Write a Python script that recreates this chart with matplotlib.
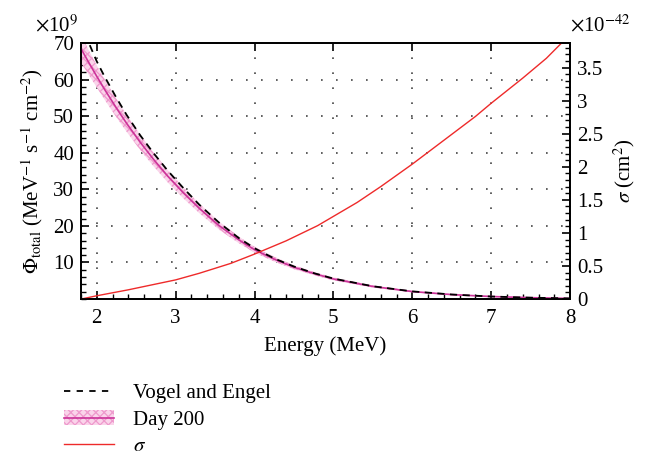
import numpy as np
import matplotlib
matplotlib.use('Agg')
import matplotlib.pyplot as plt
from matplotlib.patches import Patch
from matplotlib.lines import Line2D
from matplotlib.ticker import MultipleLocator

plt.rcParams['font.family'] = ['Liberation Serif', 'DejaVu Serif']
plt.rcParams['mathtext.fontset'] = 'stix'
plt.rcParams['hatch.linewidth'] = 0.9

# Vogel and Engel (x1e9)
vogel_e = [1.85, 1.89, 2.0, 2.1, 2.25, 2.38, 2.55, 2.72, 2.9, 3.1, 3.3, 3.55, 3.8, 4.0,
           4.25, 4.5, 4.75, 5.0, 5.5, 6.0, 6.5, 7.0, 7.5, 8.0]
vogel_phi = [72.6, 70.5, 65.0, 60.8, 55.0, 50.3, 44.8, 39.9, 35.1, 30.3, 25.8, 20.9, 16.7, 13.9,
             11.1, 8.9, 7.1, 5.6, 3.5, 2.1, 1.25, 0.7, 0.38, 0.18]

# Day 200 (centre and half-width, x1e9)
day_e = [1.8, 1.89, 2.0, 2.1, 2.25, 2.38, 2.55, 2.72, 2.9, 3.1, 3.3, 3.55, 3.8, 4.0,
         4.25, 4.5, 4.75, 5.0, 5.5, 6.0, 6.5, 7.0, 7.5, 8.0]
day_phi = [68.5, 65.0, 60.9, 57.3, 52.2, 48.0, 42.9, 38.2, 33.6, 29.0, 24.8, 20.1, 16.2, 13.5,
           10.9, 8.7, 7.0, 5.5, 3.45, 2.05, 1.22, 0.7, 0.38, 0.18]
day_err = [3.8, 3.4, 3.0, 2.8, 2.5, 2.3, 2.1, 1.9, 1.7, 1.5, 1.3, 1.1, 0.9, 0.8,
           0.65, 0.55, 0.45, 0.4, 0.3, 0.2, 0.15, 0.1, 0.07, 0.05]

# cross section (x1e-42 cm^2)
sig_e = [1.8, 2.0, 2.4, 2.8, 3.0, 3.3, 3.7, 4.0, 4.4, 4.8, 5.0, 5.3, 5.6, 6.0, 6.4, 6.8, 7.0, 7.4, 7.7, 7.9, 8.0]
sig_val = [0.0, 0.05, 0.14, 0.24, 0.29, 0.39, 0.54, 0.68, 0.88, 1.11, 1.25, 1.46, 1.70, 2.04, 2.40, 2.76, 2.96, 3.34, 3.64, 3.88, 4.0]

FS = 15

fig = plt.figure(figsize=(6.53, 4.58), dpi=100)
ax = fig.add_axes([0.124, 0.347, 0.749, 0.559])
ax2 = ax.twinx()

lo = np.array(day_phi) - np.array(day_err)
hi = np.array(day_phi) + np.array(day_err)
ax.fill_between(day_e, lo, hi, facecolor='#fad4ea', edgecolor='#ee99cc', hatch='xxxx', linewidth=0, zorder=2)
ax.plot(day_e, day_phi, color='#cc3399', lw=1.2, zorder=3)
ax.plot(vogel_e, vogel_phi, color='black', lw=1.3, ls=(0, (4, 3)), zorder=4)
ax2.plot(sig_e, sig_val, color='#ee2a2a', lw=1.0)

ax.set_xlim(1.8, 8)
ax.set_ylim(0, 70)
ax2.set_ylim(0, 3.87)

ax.xaxis.set_major_locator(MultipleLocator(1))
ax.xaxis.set_minor_locator(MultipleLocator(0.2))
ax.yaxis.set_minor_locator(MultipleLocator(2))
ax2.yaxis.set_minor_locator(MultipleLocator(0.1))

ax.set_yticks([10, 20, 30, 40, 50, 60, 70])
ax.set_yticklabels(['10', '20', '30', '40', '50', '60', '70'])
ax2.set_yticks([0, 0.5, 1, 1.5, 2, 2.5, 3, 3.5])
ax2.set_yticklabels(['0', '0.5', '1', '1.5', '2', '2.5', '3', '3.5'])

ax.tick_params(axis='x', which='both', direction='in', top=True, labelsize=FS, pad=7)
ax.tick_params(axis='x', which='minor', top=False)
ax.tick_params(axis='y', which='both', direction='in', labelsize=FS, pad=5)
ax2.tick_params(axis='y', which='both', direction='in', labelsize=FS, pad=5)
for a in (ax, ax2):
    a.tick_params(which='major', length=6, width=1.2)
    a.tick_params(which='minor', length=3.5, width=1.0)
    for s in a.spines.values():
        s.set_linewidth(1.3)

ax.grid(True, which='major', color='#444444', ls=(0, (1, 8)), lw=1.2)
ax.set_axisbelow(True)

ax.set_xlabel('Energy (MeV)', fontsize=FS, labelpad=6)
ax.set_ylabel(r'$\Phi_{\rm total}$ (MeV$^{-1}$ s$^{-1}$ cm$^{-2}$)', fontsize=FS, labelpad=6)
ax2.set_ylabel(r'$\sigma$ (cm$^2$)', fontsize=FS, labelpad=6)
ax.text(-0.095, 1.025, r'$\times$10$^9$', transform=ax.transAxes, fontsize=FS, ha='left', va='bottom')
ax2.text(1.0, 1.025, r'$\times$10$^{-42}$', transform=ax2.transAxes, fontsize=FS, ha='left', va='bottom')

handles = [
    Line2D([], [], color='black', lw=1.3, ls=(0, (3.5, 3.5))),
    (Patch(facecolor='#fad4ea', edgecolor='#ee99cc', hatch='xxxx', linewidth=0),
     Line2D([], [], color='#cc3399', lw=1.2)),
    Line2D([], [], color='#ee2a2a', lw=1.0),
]
labels = ['Vogel and Engel', 'Day 200', r'$\sigma$']
fig.legend(handles, labels, loc='upper left', bbox_to_anchor=(0.085, 0.18), frameon=False,
           fontsize=FS, handlelength=2.4, labelspacing=0.33, handletextpad=0.9, borderaxespad=0)

fig.savefig('out.png', dpi=100)
